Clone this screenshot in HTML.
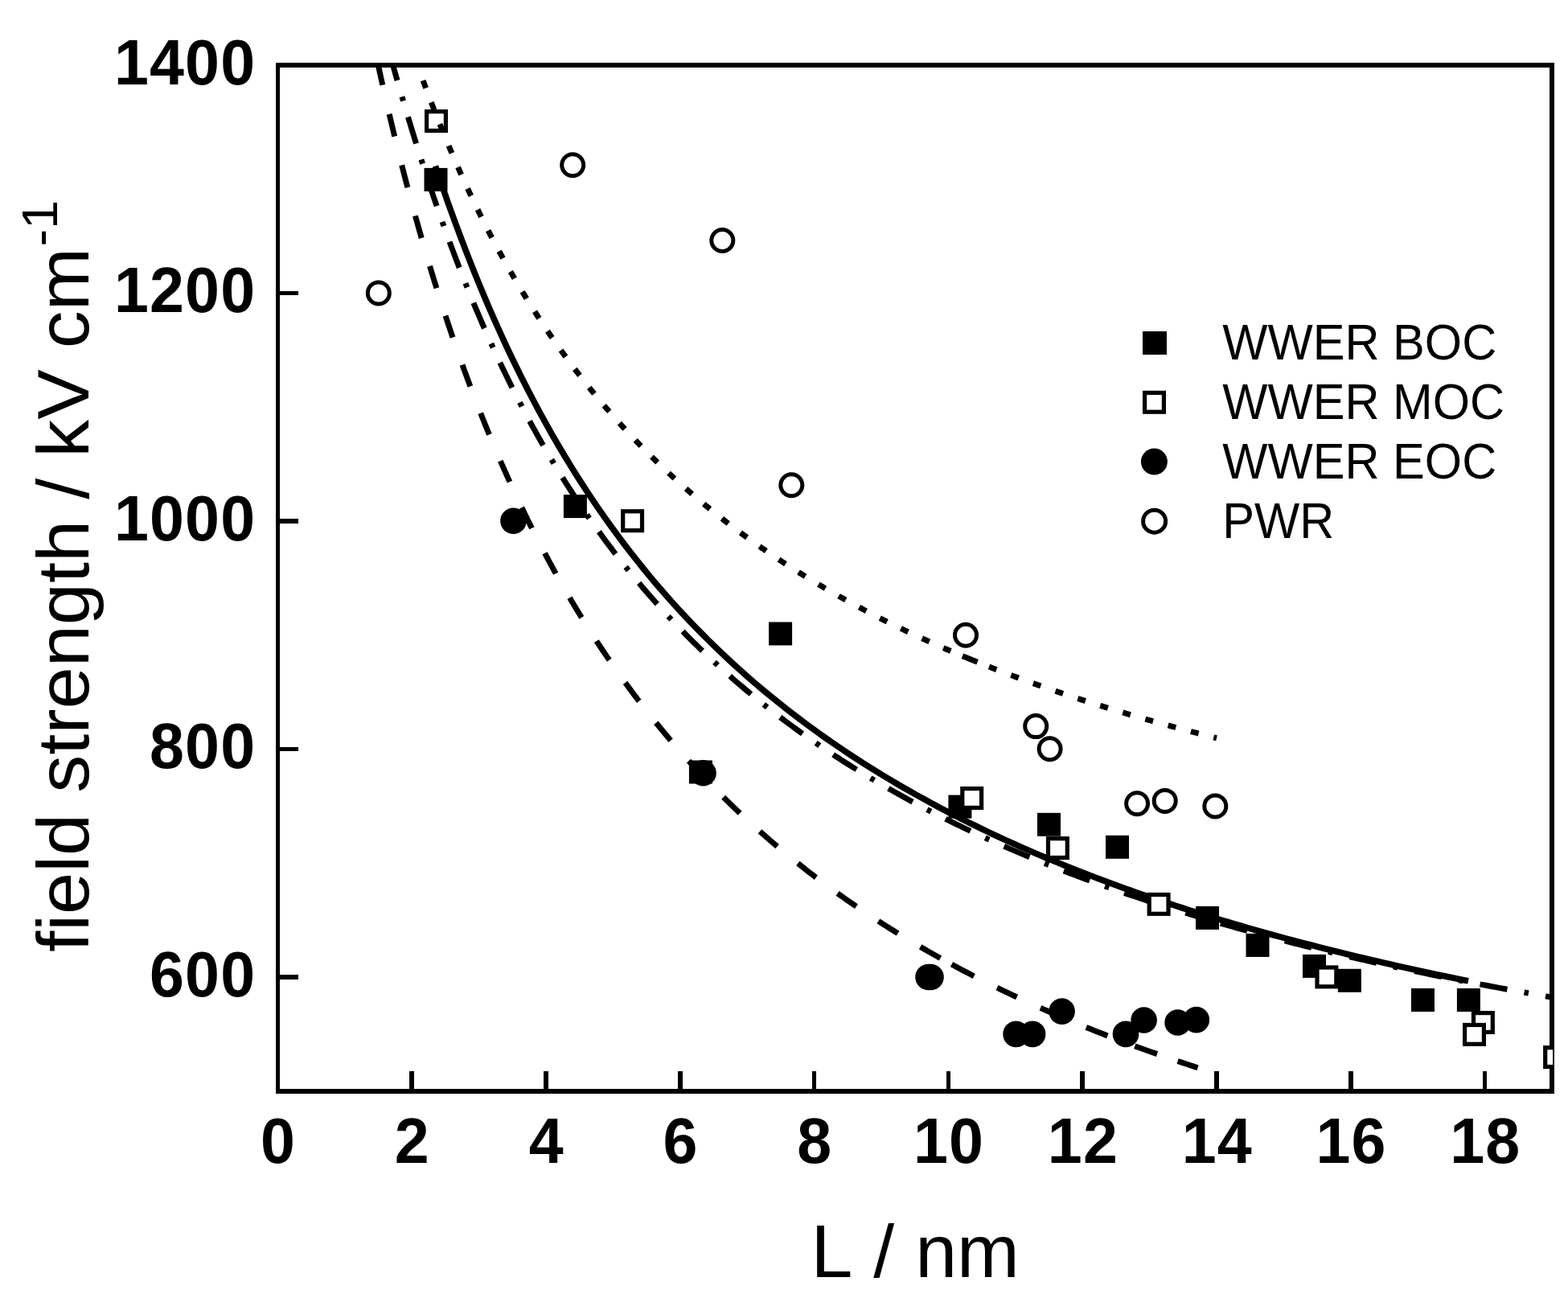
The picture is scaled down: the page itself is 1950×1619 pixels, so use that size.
<!DOCTYPE html>
<html lang="en"><head><meta charset="utf-8"><title>field strength vs L</title>
<style>html,body{margin:0;padding:0;background:#fff;width:1950px;height:1619px;overflow:hidden}svg{display:block}text{font-family:"Liberation Sans",Arial,Helvetica,sans-serif;fill:#000;font-kerning:none}.tl{font-weight:bold;font-size:80.4px;letter-spacing:1.2px}.ti{font-size:93.3px}.lg{font-size:59.6px}</style></head><body>
<svg width="1950" height="1619" viewBox="0 0 1950 1619">
<rect x="0" y="0" width="1950" height="1619" fill="#fff"/>
<defs><clipPath id="pc"><rect x="345.5" y="81" width="1585.5" height="1276"/></clipPath></defs>
<g stroke="#000" stroke-width="5.6" fill="none" shape-rendering="crispEdges">
<line x1="512.1" y1="1332" x2="512.1" y2="1357"/>
<line x1="678.9" y1="1332" x2="678.9" y2="1357"/>
<line x1="845.7" y1="1332" x2="845.7" y2="1357"/>
<line x1="1012.5" y1="1332" x2="1012.5" y2="1357"/>
<line x1="1179.3" y1="1332" x2="1179.3" y2="1357"/>
<line x1="1346.1" y1="1332" x2="1346.1" y2="1357"/>
<line x1="1512.9" y1="1332" x2="1512.9" y2="1357"/>
<line x1="1679.7" y1="1332" x2="1679.7" y2="1357"/>
<line x1="1846.5" y1="1332" x2="1846.5" y2="1357"/>
<line x1="346" y1="1214.9" x2="371" y2="1214.9"/>
<line x1="346" y1="931.4" x2="371" y2="931.4"/>
<line x1="346" y1="647.8" x2="371" y2="647.8"/>
<line x1="346" y1="364.3" x2="371" y2="364.3"/>
</g>
<g fill="#000" shape-rendering="crispEdges">
<rect x="343" y="78" width="1590" height="6"/>
<rect x="343" y="1354" width="1590" height="6"/>
<rect x="343" y="78" width="5" height="1282"/>
<rect x="1927" y="78" width="6" height="1282"/>
</g>
<text class="tl" transform="translate(346.1,1446.3) scale(0.96,1)" text-anchor="middle">0</text>
<text class="tl" transform="translate(512.9,1446.3) scale(0.96,1)" text-anchor="middle">2</text>
<text class="tl" transform="translate(679.7,1446.3) scale(0.96,1)" text-anchor="middle">4</text>
<text class="tl" transform="translate(846.5,1446.3) scale(0.96,1)" text-anchor="middle">6</text>
<text class="tl" transform="translate(1013.3,1446.3) scale(0.96,1)" text-anchor="middle">8</text>
<text class="tl" transform="translate(1180.1,1446.3) scale(0.96,1)" text-anchor="middle">10</text>
<text class="tl" transform="translate(1346.9,1446.3) scale(0.96,1)" text-anchor="middle">12</text>
<text class="tl" transform="translate(1513.7,1446.3) scale(0.96,1)" text-anchor="middle">14</text>
<text class="tl" transform="translate(1680.5,1446.3) scale(0.96,1)" text-anchor="middle">16</text>
<text class="tl" transform="translate(1847.3,1446.3) scale(0.96,1)" text-anchor="middle">18</text>
<text class="tl" transform="translate(318.2,1238.8) scale(0.96,1)" text-anchor="end">600</text>
<text class="tl" transform="translate(318.2,955.3) scale(0.96,1)" text-anchor="end">800</text>
<text class="tl" transform="translate(318.2,671.7) scale(0.96,1)" text-anchor="end">1000</text>
<text class="tl" transform="translate(318.2,388.2) scale(0.96,1)" text-anchor="end">1200</text>
<text class="tl" transform="translate(318.2,104.6) scale(0.96,1)" text-anchor="end">1400</text>
<text class="ti" x="1138.2" y="1587.7" text-anchor="middle">L / nm</text>
<text class="ti" style="font-size:93.8px" transform="translate(110,1183.8) rotate(-90) scale(1,0.972)">field strength / kV cm<tspan dx="1.5" dy="-40" style="font-size:65px">-1</tspan></text>
<g clip-path="url(#pc)">
<g fill="#000">
<rect x="527.5" y="208.9" width="29" height="29"/>
<rect x="700.9" y="615.1" width="29" height="29"/>
<rect x="956.1" y="773.5" width="29" height="29"/>
<rect x="856.9" y="945.5" width="29" height="29"/>
<rect x="1179.4" y="988.6" width="29" height="29"/>
<rect x="1290.0" y="1010.8" width="29" height="29"/>
<rect x="1375.0" y="1038.8" width="29" height="29"/>
<rect x="1487.0" y="1126.9" width="29" height="29"/>
<rect x="1549.5" y="1160.9" width="29" height="29"/>
<rect x="1620.0" y="1186.9" width="29" height="29"/>
<rect x="1663.9" y="1204.8" width="29" height="29"/>
<rect x="1755.0" y="1229.0" width="29" height="29"/>
<rect x="1811.9" y="1229.0" width="29" height="29"/>
</g>
<g fill="none" stroke="#000" stroke-width="7.0" stroke-linecap="butt" stroke-linejoin="round">
<path d="M541.40,206.46 L549.48,230.20 L557.56,253.23 L565.64,275.56 L573.72,297.21 L581.80,318.20 L589.88,338.55 L597.95,358.29 L606.03,377.44 L614.11,396.01 L622.19,414.03 L630.27,431.53 L638.35,448.51 L646.43,465.01 L654.51,481.03 L662.59,496.60 L670.67,511.74 L678.75,526.47 L686.83,540.79 L694.91,554.72 L702.98,568.29 L711.06,581.50 L719.14,594.37 L727.22,606.90 L735.30,619.12 L743.38,631.04 L751.46,642.65 L759.54,653.99 L767.62,665.05 L775.70,675.84 L783.78,686.39 L791.86,696.68 L799.94,706.74 L808.02,716.57 L816.09,726.18 L824.17,735.57 L832.25,744.75 L840.33,753.74 L848.41,762.53 L856.49,771.14 L864.57,779.56 L872.65,787.81 L880.73,795.88 L888.81,803.80 L896.89,811.55 L904.97,819.14 L913.05,826.59 L921.12,833.89 L929.20,841.05 L937.28,848.07 L945.36,854.95 L953.44,861.71 L961.52,868.34 L969.60,874.85 L977.68,881.24 L985.76,887.51 L993.84,893.67 L1001.92,899.72 L1010.00,905.66 L1018.08,911.50 L1026.15,917.24 L1034.23,922.88 L1042.31,928.42 L1050.39,933.87 L1058.47,939.22 L1066.55,944.49 L1074.63,949.67 L1082.71,954.77 L1090.79,959.79 L1098.87,964.72 L1106.95,969.57 L1115.03,974.35 L1123.11,979.05 L1131.18,983.68 L1139.26,988.24 L1147.34,992.73 L1155.42,997.15 L1163.50,1001.50 L1171.58,1005.79 L1179.66,1010.02 L1187.74,1014.18 L1195.82,1018.28 L1203.90,1022.32 L1211.98,1026.30 L1220.06,1030.23 L1228.14,1034.10 L1236.22,1037.91 L1244.29,1041.67 L1252.37,1045.38 L1260.45,1049.04 L1268.53,1052.65 L1276.61,1056.20 L1284.69,1059.71 L1292.77,1063.17 L1300.85,1066.59 L1308.93,1069.96 L1317.01,1073.28 L1325.09,1076.57 L1333.17,1079.81 L1341.25,1083.00 L1349.32,1086.16 L1357.40,1089.27 L1365.48,1092.35 L1373.56,1095.38 L1381.64,1098.38 L1389.72,1101.34 L1397.80,1104.27 L1405.88,1107.15 L1413.96,1110.01 L1422.04,1112.82 L1430.12,1115.61 L1438.20,1118.36 L1446.28,1121.07 L1454.35,1123.76 L1462.43,1126.41 L1470.51,1129.03 L1478.59,1131.62 L1486.67,1134.18 L1494.75,1136.71 L1502.83,1139.21 L1510.91,1141.68 L1518.99,1144.12 L1527.07,1146.54 L1535.15,1148.93 L1543.23,1151.29 L1551.31,1153.62 L1559.38,1155.93 L1567.46,1158.21 L1575.54,1160.47 L1583.62,1162.70 L1591.70,1164.91 L1599.78,1167.10 L1607.86,1169.26 L1615.94,1171.40 L1624.02,1173.51 L1632.10,1175.60 L1640.18,1177.67 L1648.26,1179.72 L1656.34,1181.75 L1664.42,1183.75 L1672.49,1185.74 L1680.57,1187.70 L1688.65,1189.64 L1696.73,1191.57 L1704.81,1193.47 L1712.89,1195.36 L1720.97,1197.22 L1729.05,1199.07 L1737.13,1200.89 L1745.21,1202.70 L1753.29,1204.50 L1761.37,1206.27 L1769.45,1208.02 L1777.52,1209.76 L1785.60,1211.49 L1793.68,1213.19 L1801.76,1214.88 L1809.84,1216.55 L1817.92,1218.21 L1826.00,1219.85" stroke-width="7.7"/>
<path d="M486.00,71.63 L487.00,75.18 L488.00,78.74 L489.01,82.30 L490.02,85.85 L491.03,89.41 L492.04,92.96 L493.06,96.51 L494.08,100.07 M499.93,120.20 L500.70,122.84 L501.48,125.48 M507.46,145.52 L508.57,149.19 L509.68,152.86 L510.79,156.53 L511.91,160.19 L513.04,163.86 L514.17,167.52 L515.30,171.18 L516.44,174.84 L517.58,178.50 M523.90,198.44 L524.74,201.06 L525.59,203.67 M532.08,223.51 L533.28,227.14 L534.50,230.78 L535.72,234.41 L536.94,238.05 L538.17,241.68 L539.41,245.31 L540.65,248.93 L541.89,252.56 L543.15,256.18 M550.06,275.87 L550.99,278.46 L551.91,281.05 M559.04,300.61 L560.37,304.20 L561.71,307.79 L563.05,311.38 L564.40,314.97 L565.76,318.55 L567.12,322.14 L568.49,325.72 L569.87,329.29 L571.26,332.87 M578.89,352.23 L579.91,354.79 L580.94,357.34 M588.82,376.55 L590.29,380.09 L591.78,383.62 L593.27,387.15 L594.77,390.68 L596.28,394.21 L597.79,397.73 L599.31,401.24 L600.84,404.76 L602.38,408.27 M610.85,427.23 L611.99,429.73 L613.13,432.24 M621.88,451.01 L623.52,454.48 L625.17,457.94 L626.83,461.39 L628.50,464.84 L630.18,468.29 L631.87,471.73 L633.57,475.17 L635.27,478.60 L636.98,482.03 M646.39,500.48 L647.66,502.92 L648.94,505.36 M658.65,523.60 L660.49,526.96 L662.33,530.33 L664.18,533.68 L666.04,537.03 L667.91,540.38 L669.79,543.72 L671.68,547.06 L673.57,550.39 L675.48,553.71 M685.93,571.54 L687.34,573.90 L688.76,576.26 M699.54,593.83 L701.58,597.07 L703.63,600.32 L705.68,603.55 L707.75,606.78 L709.83,610.00 L711.91,613.22 L714.01,616.43 L716.12,619.63 L718.23,622.82 M729.79,639.89 L731.36,642.15 L732.93,644.41 M744.84,661.18 L747.09,664.28 L749.35,667.37 L751.62,670.46 L753.91,673.54 L756.20,676.61 L758.51,679.67 L760.82,682.73 L763.15,685.78 L765.48,688.82 M778.19,704.98 L779.91,707.13 L781.64,709.27 M794.69,725.10 L797.16,728.03 L799.64,730.95 L802.13,733.86 L804.63,736.76 L807.15,739.66 L809.67,742.55 L812.20,745.42 L814.74,748.29 L817.30,751.15 M831.13,766.30 L833.01,768.31 L834.89,770.31 M849.05,785.08 L851.74,787.82 L854.43,790.54 L857.14,793.26 L859.85,795.97 L862.57,798.67 L865.31,801.36 L868.05,804.03 L870.80,806.70 L873.56,809.36 M888.46,823.39 L890.49,825.25 L892.51,827.11 M907.71,840.74 L910.59,843.27 L913.48,845.78 L916.38,848.29 L919.29,850.79 L922.21,853.27 L925.13,855.75 L928.07,858.22 L931.01,860.67 L933.96,863.12 M949.82,875.97 L951.97,877.68 L954.13,879.39 M970.24,891.84 L973.30,894.15 L976.36,896.45 L979.44,898.75 L982.52,901.03 L985.61,903.30 L988.70,905.56 L991.80,907.81 L994.91,910.05 L998.03,912.28 M1014.71,923.96 L1016.98,925.51 L1019.25,927.06 M1036.14,938.35 L1039.35,940.45 L1042.56,942.54 L1045.78,944.62 L1049.01,946.69 L1052.24,948.75 L1055.48,950.80 L1058.73,952.84 L1061.98,954.87 L1065.24,956.89 M1082.60,967.43 L1084.96,968.83 L1087.33,970.23 M1104.85,980.41 L1108.18,982.30 L1111.52,984.19 L1114.86,986.07 L1118.21,987.93 L1121.56,989.79 L1124.92,991.64 L1128.29,993.48 L1131.65,995.31 L1135.03,997.13 M1152.94,1006.61 L1155.38,1007.88 L1157.82,1009.14 M1175.85,1018.28 L1179.28,1019.99 L1182.72,1021.68 L1186.16,1023.37 L1189.60,1025.05 L1193.05,1026.72 L1196.51,1028.39 L1199.96,1030.04 L1203.42,1031.69 L1206.89,1033.33 M1225.23,1041.83 L1227.73,1042.97 L1230.23,1044.11 M1248.65,1052.31 L1252.17,1053.84 L1255.68,1055.37 L1259.20,1056.89 L1262.72,1058.40 L1266.25,1059.90 L1269.78,1061.40 L1273.31,1062.89 L1276.85,1064.37 L1280.39,1065.84 M1299.05,1073.47 L1301.60,1074.49 L1304.15,1075.51 M1322.87,1082.87 L1326.45,1084.25 L1330.03,1085.62 L1333.61,1086.99 L1337.19,1088.35 L1340.78,1089.70 L1344.37,1091.05 L1347.96,1092.39 L1351.56,1093.72 L1355.15,1095.05 M1374.06,1101.89 L1376.65,1102.82 L1379.24,1103.74 M1398.18,1110.35 L1401.81,1111.59 L1405.44,1112.83 L1409.07,1114.06 L1412.70,1115.28 L1416.34,1116.50 L1419.97,1117.71 L1423.61,1118.92 L1427.25,1120.12 L1430.89,1121.32 M1449.98,1127.48 L1452.61,1128.31 L1455.23,1129.14 M1474.33,1135.09 L1478.00,1136.21 L1481.67,1137.33 L1485.33,1138.44 L1489.00,1139.55 L1492.68,1140.65 L1496.35,1141.74 L1500.02,1142.83 L1503.70,1143.92 L1507.38,1145.00 M1517.80,1148.03 L1521.48,1149.09 L1525.17,1150.15 L1528.86,1151.20 L1532.54,1152.24 L1536.23,1153.28 L1539.92,1154.32 L1543.62,1155.35 L1547.31,1156.37 L1551.00,1157.39 M1571.70,1163.02 L1574.36,1163.73 L1577.02,1164.44 M1597.77,1169.88 L1601.48,1170.84 L1605.19,1171.79 L1608.90,1172.74 L1612.62,1173.68 L1616.34,1174.62 L1620.05,1175.56 L1623.77,1176.49 L1627.49,1177.42 L1631.21,1178.34 M1652.05,1183.43 L1654.72,1184.07 L1657.40,1184.71 M1678.27,1189.64 L1682.01,1190.50 L1685.74,1191.37 L1689.48,1192.23 L1693.22,1193.08 L1696.95,1193.94 L1700.69,1194.78 L1704.43,1195.63 L1708.17,1196.47 L1711.91,1197.31 M1732.86,1201.92 L1735.55,1202.50 L1738.23,1203.09 M1759.21,1207.56 L1762.96,1208.35 L1766.72,1209.13 L1770.47,1209.91 L1774.22,1210.69 L1777.98,1211.46 L1781.73,1212.23 L1785.49,1213.00 L1789.24,1213.77 L1793.00,1214.53 M1814.04,1218.73 L1816.74,1219.26 L1819.43,1219.79 M1840.49,1223.86 L1844.26,1224.58 L1848.03,1225.29 L1851.79,1226.00 L1855.56,1226.71 L1859.33,1227.42 L1863.10,1228.12 L1866.86,1228.82 L1870.63,1229.52 L1874.40,1230.21 M1895.51,1234.04 L1898.22,1234.53 L1900.92,1235.01 M1922.05,1238.73 L1925.54,1239.33 L1929.02,1239.94 L1932.51,1240.54 L1936.00,1241.14"/>
<path d="M469.62,77.85 L470.38,81.34 L471.15,84.84 L471.92,88.33 L472.69,91.82 L473.46,95.31 L474.24,98.80 L475.02,102.29 L475.80,105.78 M484.11,141.88 L484.93,145.36 L485.76,148.83 L486.58,152.31 L487.42,155.79 L488.25,159.26 L489.09,162.74 L489.93,166.21 L490.78,169.69 M499.69,205.42 L500.57,208.88 L501.46,212.34 L502.36,215.81 L503.25,219.27 L504.15,222.73 L505.06,226.18 L505.97,229.64 L506.88,233.10 M516.45,268.43 L517.40,271.87 L518.37,275.32 L519.33,278.76 L520.30,282.20 L521.27,285.64 L522.25,289.08 L523.23,292.52 L524.22,295.95 M534.50,330.86 L535.54,334.28 L536.58,337.70 L537.62,341.12 L538.67,344.53 L539.72,347.95 L540.78,351.37 L541.84,354.78 L542.91,358.19 M553.98,392.62 L555.10,396.02 L556.22,399.41 L557.36,402.80 L558.49,406.19 L559.63,409.58 L560.78,412.96 L561.93,416.35 L563.09,419.73 M575.01,453.64 L576.22,457.01 L577.44,460.37 L578.67,463.72 L579.90,467.08 L581.14,470.43 L582.38,473.79 L583.63,477.14 L584.88,480.48 M597.73,513.82 L599.05,517.14 L600.37,520.46 L601.70,523.78 L603.04,527.10 L604.38,530.41 L605.73,533.72 L607.08,537.03 L608.44,540.34 M622.29,573.03 L623.72,576.31 L625.16,579.58 L626.60,582.85 L628.05,586.12 L629.51,589.38 L630.97,592.65 L632.44,595.90 L633.91,599.16 M648.85,631.13 L650.40,634.35 L651.96,637.57 L653.52,640.78 L655.09,643.99 L656.67,647.20 L658.26,650.41 L659.85,653.61 L661.45,656.80 M677.54,687.96 L679.22,691.12 L680.91,694.27 L682.60,697.41 L684.31,700.56 L686.02,703.70 L687.74,706.83 L689.46,709.96 L691.19,713.09 M708.50,743.34 L710.32,746.41 L712.14,749.49 L713.97,752.56 L715.82,755.62 L717.67,758.68 L719.52,761.74 L721.39,764.79 L723.26,767.83 M741.83,797.06 L743.79,800.05 L745.76,803.03 L747.74,806.01 L749.72,808.98 L751.72,811.95 L753.72,814.91 L755.73,817.87 L757.75,820.82 M777.61,848.91 L779.72,851.80 L781.83,854.68 L783.96,857.56 L786.09,860.42 L788.23,863.29 L790.38,866.14 L792.54,868.99 L794.71,871.84 M815.86,898.69 L818.12,901.47 L820.38,904.23 L822.66,906.99 L824.94,909.74 L827.23,912.49 L829.53,915.23 L831.84,917.96 L834.15,920.68 M856.57,946.20 L858.97,948.85 L861.38,951.49 L863.80,954.12 L866.23,956.74 L868.66,959.36 L871.11,961.97 L873.56,964.57 L876.02,967.16 M899.64,991.27 L902.19,993.78 L904.74,996.28 L907.30,998.78 L909.87,1001.27 L912.44,1003.74 L915.02,1006.22 L917.62,1008.68 L920.21,1011.13 M944.95,1033.76 L947.63,1036.13 L950.32,1038.49 L953.01,1040.85 L955.71,1043.19 L958.41,1045.53 L961.13,1047.85 L963.85,1050.17 L966.57,1052.48 M992.32,1073.61 L995.12,1075.84 L997.93,1078.05 L1000.74,1080.26 L1003.56,1082.46 L1006.39,1084.65 L1009.22,1086.83 L1012.06,1089.00 L1014.90,1091.16 M1041.54,1110.79 L1044.45,1112.87 L1047.37,1114.94 L1050.29,1117.00 L1053.21,1119.05 L1056.15,1121.10 L1059.09,1123.13 L1062.03,1125.16 L1064.98,1127.18 M1092.38,1145.34 L1095.38,1147.27 L1098.40,1149.20 L1101.41,1151.12 L1104.44,1153.02 L1107.46,1154.93 L1110.50,1156.82 L1113.54,1158.70 L1116.58,1160.58 M1144.60,1177.33 L1147.69,1179.13 L1150.79,1180.91 L1153.89,1182.69 L1157.00,1184.46 L1160.11,1186.22 L1163.22,1187.98 L1166.34,1189.73 L1169.47,1191.46 M1183.50,1199.15 L1186.96,1201.02 L1190.42,1202.87 L1193.89,1204.72 L1197.36,1206.55 L1200.84,1208.38 L1204.32,1210.20 L1207.81,1212.00 L1211.30,1213.80 M1240.00,1228.18 L1243.50,1229.88 L1247.01,1231.57 L1250.52,1233.26 L1254.03,1234.94 L1257.55,1236.61 L1261.07,1238.27 L1264.60,1239.92 M1294.00,1253.32 L1297.56,1254.90 L1301.13,1256.47 L1304.69,1258.03 L1308.27,1259.58 L1311.84,1261.13 L1315.42,1262.67 L1319.00,1264.20 M1350.80,1277.39 L1354.12,1278.73 L1357.44,1280.06 L1360.76,1281.38 L1364.08,1282.70 L1367.41,1284.02 L1370.74,1285.32 L1374.07,1286.62 L1377.40,1287.92 M1411.30,1300.69 L1414.75,1301.96 L1418.21,1303.21 L1421.67,1304.47 L1425.13,1305.71 L1428.60,1306.95 L1432.06,1308.19 L1435.53,1309.42 L1439.00,1310.64 M1464.60,1319.46 L1468.17,1320.66 L1471.73,1321.86 L1475.30,1323.05 L1478.87,1324.24 L1482.45,1325.41 L1486.02,1326.59 L1489.60,1327.76"/>
</g>
<g fill="#fff" stroke="#000" stroke-width="5.2">
<rect x="530.6" y="138.7" width="23.8" height="23.8"/>
<rect x="774.7" y="635.8" width="23.8" height="23.8"/>
<rect x="1196.8" y="980.6" width="23.8" height="23.8"/>
<rect x="1303.5" y="1042.7" width="23.8" height="23.8"/>
<rect x="1429.2" y="1112.5" width="23.8" height="23.8"/>
<rect x="1638.0" y="1203.0" width="23.8" height="23.8"/>
<rect x="1832.5" y="1259.6" width="23.8" height="23.8"/>
<rect x="1821.6" y="1274.5" width="23.8" height="23.8"/>
<rect x="1921.7" y="1302.7" width="23.8" height="23.8"/>
</g>
<g fill="#000">
<circle cx="638.5" cy="647.7" r="16.3"/>
<circle cx="874.5" cy="961.3" r="16.3"/>
<circle cx="1154.5" cy="1215.0" r="16.3"/>
<circle cx="1157.5" cy="1215.0" r="16.3"/>
<circle cx="1263.6" cy="1285.9" r="16.3"/>
<circle cx="1284.1" cy="1285.9" r="16.3"/>
<circle cx="1320.6" cy="1257.6" r="16.3"/>
<circle cx="1400.0" cy="1285.9" r="16.3"/>
<circle cx="1422.6" cy="1268.5" r="16.3"/>
<circle cx="1464.6" cy="1271.5" r="16.3"/>
<circle cx="1487.8" cy="1268.1" r="16.3"/>
</g>
<g fill="#fff" stroke="#000" stroke-width="5">
<circle cx="470.8" cy="364.4" r="13.5"/>
<circle cx="712.2" cy="205.2" r="13.5"/>
<circle cx="898.3" cy="299.0" r="13.5"/>
<circle cx="984.3" cy="603.3" r="13.5"/>
<circle cx="1201.0" cy="789.8" r="13.5"/>
<circle cx="1288.2" cy="903.1" r="13.5"/>
<circle cx="1305.6" cy="931.2" r="13.5"/>
<circle cx="1414.1" cy="999.2" r="13.5"/>
<circle cx="1448.7" cy="995.9" r="13.5"/>
<circle cx="1511.3" cy="1002.5" r="13.5"/>
</g>
<path d="M526.11,100.13 L527.27,103.26 L528.42,106.38 L529.59,109.51 M536.34,127.34 L537.54,130.45 L538.74,133.56 L539.95,136.66 M546.97,154.39 L548.22,157.48 L549.47,160.57 L550.73,163.65 M558.04,181.26 L559.33,184.33 L560.64,187.40 L561.95,190.47 M569.56,207.95 L570.91,210.99 L572.27,214.04 L573.63,217.08 M581.56,234.42 L582.97,237.44 L584.39,240.46 L585.81,243.47 M594.08,260.65 L595.54,263.64 L597.02,266.63 L598.50,269.62 M607.12,286.63 L608.65,289.59 L610.18,292.55 L611.73,295.50 M620.71,312.32 L622.30,315.24 L623.91,318.17 L625.52,321.09 M634.87,337.70 L636.54,340.59 L638.21,343.47 L639.88,346.35 M649.63,362.74 L651.36,365.59 L653.10,368.43 L654.85,371.27 M664.99,387.41 L666.79,390.21 L668.60,393.01 L670.42,395.81 M680.97,411.69 L682.85,414.44 L684.73,417.19 L686.62,419.94 M697.59,435.54 L699.53,438.24 L701.49,440.94 L703.45,443.64 M714.83,458.93 L716.85,461.58 L718.88,464.23 L720.92,466.87 M732.72,481.84 L734.82,484.43 L736.92,487.02 L739.02,489.60 M751.25,504.23 L753.41,506.77 L755.59,509.29 L757.77,511.81 M770.41,526.09 L772.64,528.56 L774.89,531.02 L777.14,533.48 M790.19,547.38 L792.50,549.79 L794.81,552.18 L797.14,554.57 M810.58,568.09 L812.96,570.43 L815.34,572.76 L817.73,575.08 M831.56,588.20 L834.01,590.47 L836.46,592.73 L838.92,594.98 M853.12,607.70 L855.63,609.90 L858.14,612.08 L860.66,614.26 M875.22,626.57 L877.79,628.70 L880.37,630.81 L882.95,632.92 M897.85,644.82 L900.47,646.87 L903.11,648.91 L905.75,650.95 M920.97,662.43 L923.65,664.41 L926.34,666.38 L929.03,668.34 M944.56,679.41 L947.29,681.32 L950.03,683.21 L952.77,685.11 M968.58,695.76 L971.36,697.60 L974.15,699.43 L976.94,701.25 M993.02,711.50 L995.84,713.27 L998.67,715.03 L1001.51,716.78 M1017.83,726.64 L1020.70,728.34 L1023.57,730.03 L1026.45,731.71 M1042.99,741.18 L1045.90,742.81 L1048.81,744.43 L1051.73,746.05 M1068.48,755.15 L1071.43,756.71 L1074.37,758.27 L1077.32,759.82 M1094.27,768.55 L1097.25,770.06 L1100.23,771.55 L1103.21,773.04 M1120.33,781.42 L1123.34,782.86 L1126.35,784.30 L1129.36,785.72 M1146.65,793.76 L1149.68,795.15 L1152.72,796.52 L1155.76,797.89 M1173.19,805.60 L1176.25,806.93 L1179.31,808.25 L1182.37,809.56 M1196.90,815.70 L1200.01,816.99 L1203.12,818.27 L1206.24,819.55 L1209.36,820.83 L1212.48,822.09 L1215.60,823.36 M1230.01,829.08 L1233.11,830.30 L1236.22,831.51 L1239.33,832.71 M1257.37,839.57 L1260.49,840.73 L1263.61,841.89 L1266.74,843.05 M1284.88,849.62 L1288.02,850.74 L1291.17,851.85 L1294.31,852.96 M1312.55,859.27 L1315.70,860.34 L1318.86,861.41 L1322.02,862.47 M1340.34,868.52 L1343.51,869.55 L1346.69,870.58 L1349.86,871.60 M1368.26,877.41 L1371.44,878.40 L1374.63,879.38 L1377.82,880.36 M1396.29,885.94 L1399.48,886.89 L1402.68,887.83 L1405.88,888.77 M1424.42,894.13 L1427.62,895.04 L1430.83,895.94 L1434.04,896.85 M1452.64,901.99 L1455.86,902.87 L1459.07,903.74 L1462.29,904.61 M1480.94,909.55 L1484.17,910.40 L1487.40,911.23 L1490.62,912.07 M1509.33,916.82 L1513.00,917.74" fill="none" stroke="#000" stroke-width="7.0"/>
</g>
<rect x="1421" y="412" width="30" height="29" fill="#000"/>
<rect x="1423.6" y="488.4" width="23.8" height="23.8" fill="#fff" stroke="#000" stroke-width="5.2"/>
<circle cx="1435.4" cy="574.1" r="16.5" fill="#000"/>
<circle cx="1435.6" cy="648.2" r="14" fill="#fff" stroke="#000" stroke-width="5"/>
<text class="lg" transform="translate(1520.3,447.2) scale(1,1.055)">WWER BOC</text>
<text class="lg" transform="translate(1520.3,521.1) scale(1,1.055)">WWER MOC</text>
<text class="lg" transform="translate(1520.3,595.0) scale(1,1.055)">WWER EOC</text>
<text class="lg" transform="translate(1520.3,668.9) scale(1,1.055)">PWR</text>
</svg></body></html>
